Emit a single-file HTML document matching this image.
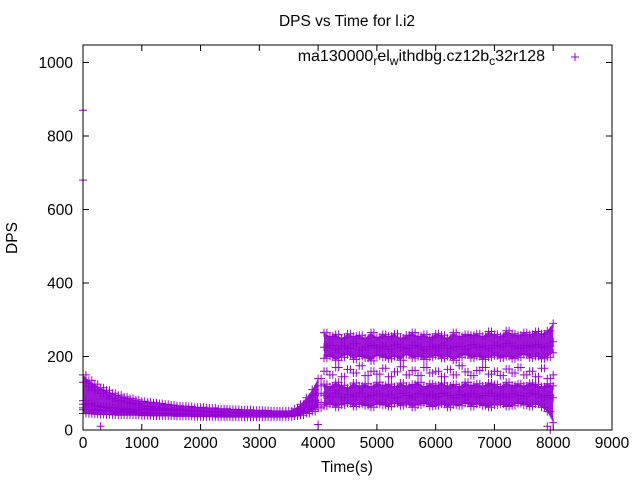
<!DOCTYPE html>
<html><head><meta charset="utf-8"><style>
body{margin:0;background:#fff}
svg{display:block;font-family:"Liberation Sans",sans-serif}
</style></head><body>
<svg id="chart" width="640" height="480" viewBox="0 0 640 480">
<rect width="640" height="480" fill="#fff"/>
<text x="347" y="26" font-size="15.5" text-anchor="middle">DPS vs Time for l.i2</text>
<text x="347" y="472" font-size="15.5" text-anchor="middle">Time(s)</text>
<text x="17" y="238" font-size="15.5" text-anchor="middle" transform="rotate(-90 17 238)">DPS</text>
<g id="axes"></g>
<g id="marks"></g>
<rect x="83" y="45" width="529" height="385" fill="none" stroke="#000" stroke-width="1"/>
<g>
<text x="545" y="61" font-size="16" text-anchor="end">ma130000<tspan font-size="12" dy="4">r</tspan><tspan dy="-4">el</tspan><tspan font-size="12" dy="4">w</tspan><tspan dy="-4">ithdbg.cz12b</tspan><tspan font-size="12" dy="4">c</tspan><tspan dy="-4">32r128</tspan></text>
<path d="M571 57h8M575 53v8" stroke="#9400d3" stroke-width="1"/>
</g>
</svg>
<script>
const xTicks=[0,1000,2000,3000,4000,5000,6000,7000,8000,9000];
const yTicks=[0,200,400,600,800,1000];
const times=[];for(let i=0;i<=80;i++)times.push(i*100);
const s1=[150,135,125,115,108,100,95,90,86,82,78,76,74,72,70,68,66,65,64,62,62,60,60,58,58,56,56,55,55,54,54,53,52,52,52,52,58,70,88,110,140,265,255,260,250,262,255,258,250,265,252,260,255,262,250,258,265,255,260,252,262,258,250,265,255,260,258,262,255,268,260,255,270,262,258,265,260,268,262,270,290];
const s2=[130,118,108,100,92,86,80,76,72,70,66,64,62,60,58,57,56,55,54,53,52,51,50,50,49,49,48,48,47,47,46,46,45,45,45,46,50,60,75,95,120,225,230,220,228,222,235,218,226,230,224,228,220,232,225,222,230,226,218,228,224,230,222,226,228,220,232,225,228,222,230,226,235,228,222,230,226,232,225,228,240];
const s3=[60,58,56,55,54,52,52,50,50,48,48,47,46,46,45,45,44,44,43,43,42,42,42,41,41,40,40,40,40,40,40,40,40,40,40,42,45,50,55,60,70,195,200,190,198,205,192,200,196,188,202,198,194,200,190,205,196,200,192,198,202,195,200,190,198,204,196,200,192,198,202,196,200,194,198,205,196,200,194,198,210];
const s4=[70,68,66,64,62,60,58,58,56,56,55,55,54,54,53,53,52,52,51,51,50,50,50,49,49,48,48,48,47,47,47,46,46,46,45,45,48,52,58,65,75,125,118,130,122,115,128,120,126,118,130,122,125,118,128,120,124,130,118,126,122,128,120,124,118,130,122,126,120,128,124,118,130,122,126,120,128,124,118,126,120];
const s5=[45,44,43,42,42,41,40,40,40,40,39,39,38,38,38,38,37,37,37,36,36,36,36,35,35,35,35,35,35,35,35,35,35,35,35,36,38,40,45,50,60,95,90,100,88,96,92,100,90,94,98,92,96,88,100,94,90,98,92,96,90,100,94,88,96,92,98,90,94,100,92,96,90,98,94,92,100,96,90,94,88];
const s6=[55,55,54,52,50,50,48,48,46,46,45,45,44,44,43,43,42,42,42,41,41,41,40,40,40,40,40,40,40,40,40,40,40,40,40,40,42,45,50,55,65,65,70,62,68,72,64,70,66,62,70,68,64,72,66,70,62,68,72,64,66,70,62,68,66,72,64,70,66,62,68,70,64,66,72,68,64,70,62,50,20];
const s7=[80,72,66,62,60,58,56,55,54,53,60,58,57,56,55,54,53,52,51,50,50,49,48,48,47,47,46,46,45,45,45,44,44,44,43,44,46,55,65,80,100,160,150,170,145,165,155,175,148,160,152,168,145,158,172,150,162,148,170,155,160,145,165,150,175,158,148,162,170,152,160,148,166,155,170,150,160,145,168,140,150];
const outX=[0,0,300,4000,7900,7950];
const outY=[870,680,10,15,10,0];
const NS="http://www.w3.org/2000/svg";
const xs=v=>83+v*529/9000;
const ys=v=>430-v*0.3675;
const axes=document.getElementById('axes'),marks=document.getElementById('marks');
xTicks.forEach(t=>{
 const p=document.createElementNS(NS,'path');
 p.setAttribute('d',`M${xs(t)} 430v-6M${xs(t)} 45v6`);p.setAttribute('stroke','#000');
 
 
 axes.appendChild(p);
 const l=document.createElementNS(NS,'text');
 l.setAttribute('x',xs(t));l.setAttribute('y',448);l.setAttribute('font-size','15.5');l.setAttribute('text-anchor','middle');
 l.textContent=t;
 
 
 axes.appendChild(l);
});
yTicks.forEach(t=>{
 const p=document.createElementNS(NS,'path');
 p.setAttribute('d',`M83 ${ys(t)}h6M612 ${ys(t)}h-6`);p.setAttribute('stroke','#000');
 
 
 axes.appendChild(p);
 const l=document.createElementNS(NS,'text');
 l.setAttribute('x',73);l.setAttribute('y',ys(t)+5.5);l.setAttribute('font-size','15.5');l.setAttribute('text-anchor','end');
 l.textContent=t;
 
 
 axes.appendChild(l);
});
function band(hi,lo,from,to){
 let top='',bot='';
 for(let i=from;i<=to;i++){top+=(i===from?'M':'L')+xs(times[i]).toFixed(1)+' '+ys(hi[i]).toFixed(1);}
 for(let i=to;i>=from;i--){bot+='L'+xs(times[i]).toFixed(1)+' '+ys(lo[i]).toFixed(1);}
 return top+bot+'Z';
}
const bands=[band(s1,s5,0,40),band(s4,s6,41,80),band(s1,s3,41,80)];
bands.forEach(b=>{
 const p=document.createElementNS(NS,'path');
 p.setAttribute('d',b);p.setAttribute('fill','#9400d3');p.setAttribute('fill-opacity','0.9');
 
 
 marks.appendChild(p);
});
let d='';
function add(x,y){d+=`M${(xs(x)-4).toFixed(1)} ${ys(y).toFixed(1)}h8M${xs(x).toFixed(1)} ${(ys(y)-4).toFixed(1)}v8`;}
[s1,s2,s3,s4,s5,s6,s7].forEach(s=>s.forEach((v,i)=>{add(times[i],v);if(i<80)add(times[i]+50,v);}));
outX.forEach((x,i)=>add(x,outY[i]));
const pts=document.createElementNS(NS,'path');
pts.setAttribute('d',d);pts.setAttribute('stroke','#9400d3');pts.setAttribute('stroke-width','1');pts.setAttribute('fill','none');


marks.appendChild(pts);
</script>
</body></html>
